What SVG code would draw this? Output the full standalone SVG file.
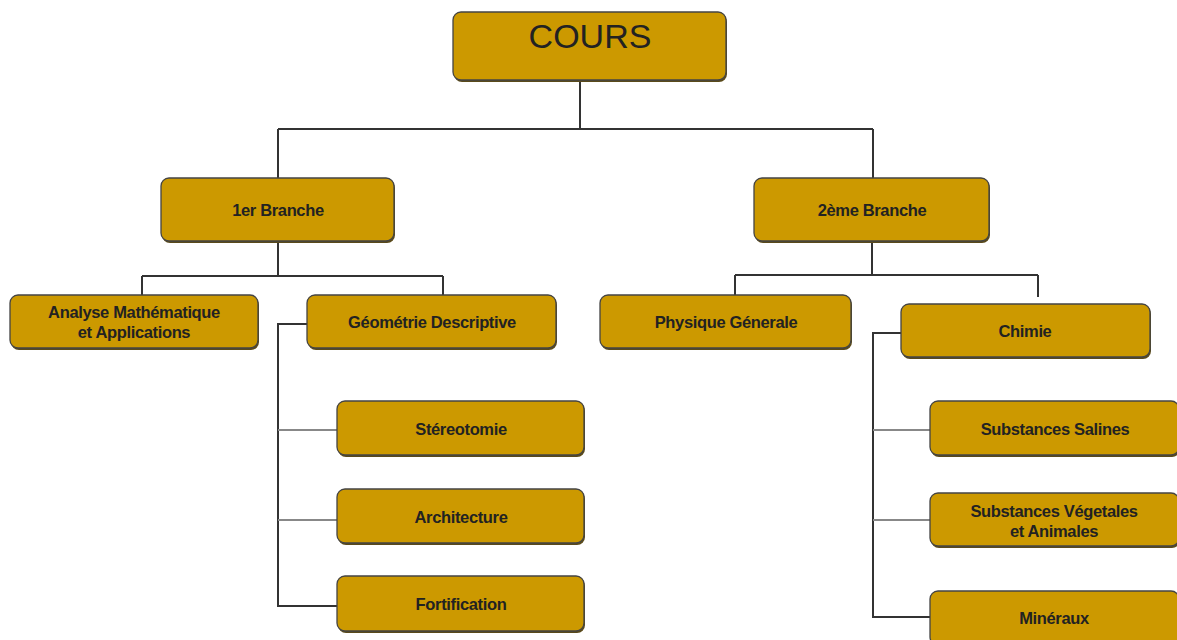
<svg xmlns="http://www.w3.org/2000/svg" width="1177" height="640" viewBox="0 0 1177 640">
<style>
.box{fill:#CC9900;stroke:#444;stroke-width:1.3}
.sh{fill:#5a4a1a}
.t{font-family:"Liberation Sans",Arial,sans-serif;font-weight:bold;font-size:16.5px;fill:#222;text-anchor:middle;letter-spacing:-0.35px}
.big{font-family:"Liberation Sans",Arial,sans-serif;font-size:34px;fill:#222;text-anchor:middle}
.c{fill:none;stroke:#333;stroke-width:2}
.g{fill:none;stroke:#888;stroke-width:2}
</style>
<rect width="1177" height="640" fill="#fff"/>
<g id="connectors">
<path class="c" d="M580 81V129M278 129H873M278 129V178M873 129V178"/>
<path class="c" d="M278 243V276M142 276H443M142 276V295M443 276V295"/>
<path class="c" d="M872 243V275M735 275H1038M735 275V295M1038 275V297"/>
<path class="c" d="M307 324H278V606H337"/>
<path class="g" d="M278 430H337M278 520H337"/>
<path class="c" d="M901 333H873V617H930"/>
<path class="g" d="M873 430H930M873 520H930"/>
</g>
<g id="cours"><rect class="sh" x="454" y="14" width="273" height="68" rx="8"/><rect class="box" x="453" y="12" width="273" height="68" rx="8"/><text class="big" x="590" y="48">COURS</text></g>
<g id="b1"><rect class="sh" x="162" y="180" width="233" height="63" rx="8"/><rect class="box" x="161" y="178" width="233" height="63" rx="8"/><text class="t" x="278" y="216">1er Branche</text></g>
<g id="b2"><rect class="sh" x="755" y="180" width="235" height="63" rx="8"/><rect class="box" x="754" y="178" width="235" height="63" rx="8"/><text class="t" x="872" y="216">2ème Branche</text></g>
<g id="analyse"><rect class="sh" x="11" y="297" width="248" height="53" rx="8"/><rect class="box" x="10" y="295" width="248" height="53" rx="8"/><text class="t" x="134" y="318">Analyse Mathématique</text><text class="t" x="134" y="338">et Applications</text></g>
<g id="geometrie"><rect class="sh" x="308" y="297" width="249" height="53" rx="8"/><rect class="box" x="307" y="295" width="249" height="53" rx="8"/><text class="t" x="432" y="328">Géométrie Descriptive</text></g>
<g id="stereotomie"><rect class="sh" x="338" y="403" width="247" height="54" rx="8"/><rect class="box" x="337" y="401" width="247" height="54" rx="8"/><text class="t" x="461" y="435">Stéreotomie</text></g>
<g id="architecture"><rect class="sh" x="338" y="491" width="247" height="54" rx="8"/><rect class="box" x="337" y="489" width="247" height="54" rx="8"/><text class="t" x="461" y="523">Architecture</text></g>
<g id="fortification"><rect class="sh" x="338" y="578" width="247" height="55" rx="8"/><rect class="box" x="337" y="576" width="247" height="55" rx="8"/><text class="t" x="461" y="610">Fortification</text></g>
<g id="physique"><rect class="sh" x="601" y="297" width="251" height="53" rx="8"/><rect class="box" x="600" y="295" width="251" height="53" rx="8"/><text class="t" x="726" y="328">Physique Génerale</text></g>
<g id="chimie"><rect class="sh" x="902" y="306" width="249" height="53" rx="8"/><rect class="box" x="901" y="304" width="249" height="53" rx="8"/><text class="t" x="1025" y="337">Chimie</text></g>
<g id="salines"><rect class="sh" x="931" y="403" width="249" height="54" rx="8"/><rect class="box" x="930" y="401" width="249" height="54" rx="8"/><text class="t" x="1055" y="435">Substances Salines</text></g>
<g id="vegetales"><rect class="sh" x="931" y="495" width="249" height="53" rx="8"/><rect class="box" x="930" y="493" width="249" height="53" rx="8"/><text class="t" x="1054" y="517">Substances Végetales</text><text class="t" x="1054" y="537">et Animales</text></g>
<g id="mineraux"><rect class="sh" x="931" y="593" width="249" height="54" rx="8"/><rect class="box" x="930" y="591" width="249" height="54" rx="8"/><text class="t" x="1054" y="624">Minéraux</text></g>
</svg>
